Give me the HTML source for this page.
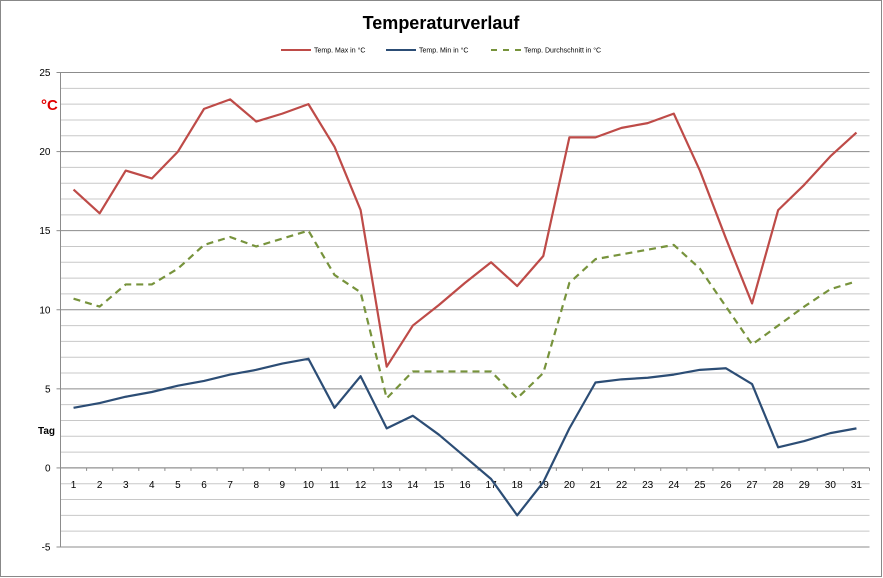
<!DOCTYPE html>
<html><head><meta charset="utf-8"><style>
html,body{margin:0;padding:0;background:#fff;}
svg{display:block;font-family:"Liberation Sans",Calibri,sans-serif;}
</style></head><body>
<svg id="chart" width="883" height="578" viewBox="0 0 883 578" xmlns="http://www.w3.org/2000/svg">
<rect x="0.5" y="0.5" width="881" height="576" fill="#fff" stroke="#888"/>
<text x="441" y="29" text-anchor="middle" font-size="18" font-weight="bold">Temperaturverlauf</text>
<g id="legend" font-size="7">
 <g><line x1="281" y1="50" x2="311" y2="50" stroke="#be4b48" stroke-width="2"/><text x="314" y="52.5">Temp. Max in °C</text></g>
 <g><line x1="386" y1="50" x2="416" y2="50" stroke="#2c4d75" stroke-width="2"/><text x="419" y="52.5">Temp. Min in °C</text></g>
 <g><line x1="491" y1="50" x2="521" y2="50" stroke="#77933c" stroke-width="2" stroke-dasharray="6,6"/><text x="524" y="52.5">Temp. Durchschnitt in °C</text></g>
</g>
<text x="41" y="110" font-size="15" font-weight="bold" fill="#e00000">°C</text>
<text x="38" y="434" font-size="10" font-weight="bold">Tag</text>
<g id="grid"></g><g id="axes"></g><g id="series"></g>
</svg>
<script>
const days = [1,2,3,4,5,6,7,8,9,10,11,12,13,14,15,16,17,18,19,20,21,22,23,24,25,26,27,28,29,30,31];
const tempMax = [17.6,16.1,18.8,18.3,20.0,22.7,23.3,21.9,22.4,23.0,20.3,16.3,6.4,9.0,10.3,11.7,13.0,11.5,13.4,20.9,20.9,21.5,21.8,22.4,18.8,14.5,10.4,16.3,17.9,19.7,21.2];
const tempMin = [3.8,4.1,4.5,4.8,5.2,5.5,5.9,6.2,6.6,6.9,3.8,5.8,2.5,3.3,2.1,0.7,-0.7,-3.0,-0.9,2.5,5.4,5.6,5.7,5.9,6.2,6.3,5.3,1.3,1.7,2.2,2.5];
const tempAvg = [10.7,10.2,11.6,11.6,12.6,14.1,14.6,14.0,14.5,15.0,12.2,11.1,4.4,6.1,6.1,6.1,6.1,4.4,6.0,11.7,13.2,13.5,13.8,14.1,12.6,10.2,7.8,9.0,10.2,11.3,11.8];
const yTicks = [-5,0,5,10,15,20,25];
const NS="http://www.w3.org/2000/svg";
const X0=60.5, X1=869.5, Y25=72.5, Yn5=547;
const y = v => Y25 + (25-v)*(Yn5-Y25)/30;
const bw = (X1-X0)/days.length;
const x = i => X0 + bw*(i+0.5);
function mk(tag, attrs, parent){const e=document.createElementNS(NS,tag);for(const k in attrs)e.setAttribute(k,attrs[k]);parent.appendChild(e);return e;}
const grid=document.getElementById('grid'), axes=document.getElementById('axes'), series=document.getElementById('series');
for(let v=-5; v<=25; v++){
  const major = v%5===0;
  const l=mk('line',{x1:X0,x2:X1,y1:y(v),y2:y(v),stroke:major?'#8c8c8c':'#c8c8c8','stroke-width':1},grid);
  
  
}
yTicks.forEach(v=>{
  const t=mk('line',{x1:X0-4,x2:X0,y1:y(v),y2:y(v),stroke:'#8c8c8c'},axes);
  
  
  const tx=mk('text',{x:X0-10,y:y(v)+3.5,'text-anchor':'end','font-size':10},axes);
  tx.textContent=v;
  
  
});
const ya=mk('line',{x1:X0,x2:X0,y1:Y25,y2:Yn5,stroke:'#8c8c8c'},axes);


const xa=mk('line',{x1:X0,x2:X1,y1:y(0),y2:y(0),stroke:'#8c8c8c'},axes);


for(let i=0;i<=days.length;i++){
  const t=mk('line',{x1:X0+bw*i,x2:X0+bw*i,y1:y(0),y2:y(0)+3,stroke:'#8c8c8c'},axes);
  
  
}
days.forEach((d,i)=>{
  const tx=mk('text',{x:x(i),y:y(0)+20,'text-anchor':'middle','font-size':10},axes);
  tx.textContent=d;
  
  
});
function line(vals,color,dash,name){
  const p=mk('polyline',{points:vals.map((v,i)=>x(i)+','+y(v)).join(' '),fill:'none',stroke:color,'stroke-width':2.2,'stroke-linejoin':'round'},series);
  if(dash)p.setAttribute('stroke-dasharray',dash);
  
  
}
line(tempMax,'#be4b48',null,'series-max-line');
line(tempMin,'#2c4d75',null,'series-min-line');
line(tempAvg,'#77933c','7,5','series-avg-line');
</script>
</body></html>
